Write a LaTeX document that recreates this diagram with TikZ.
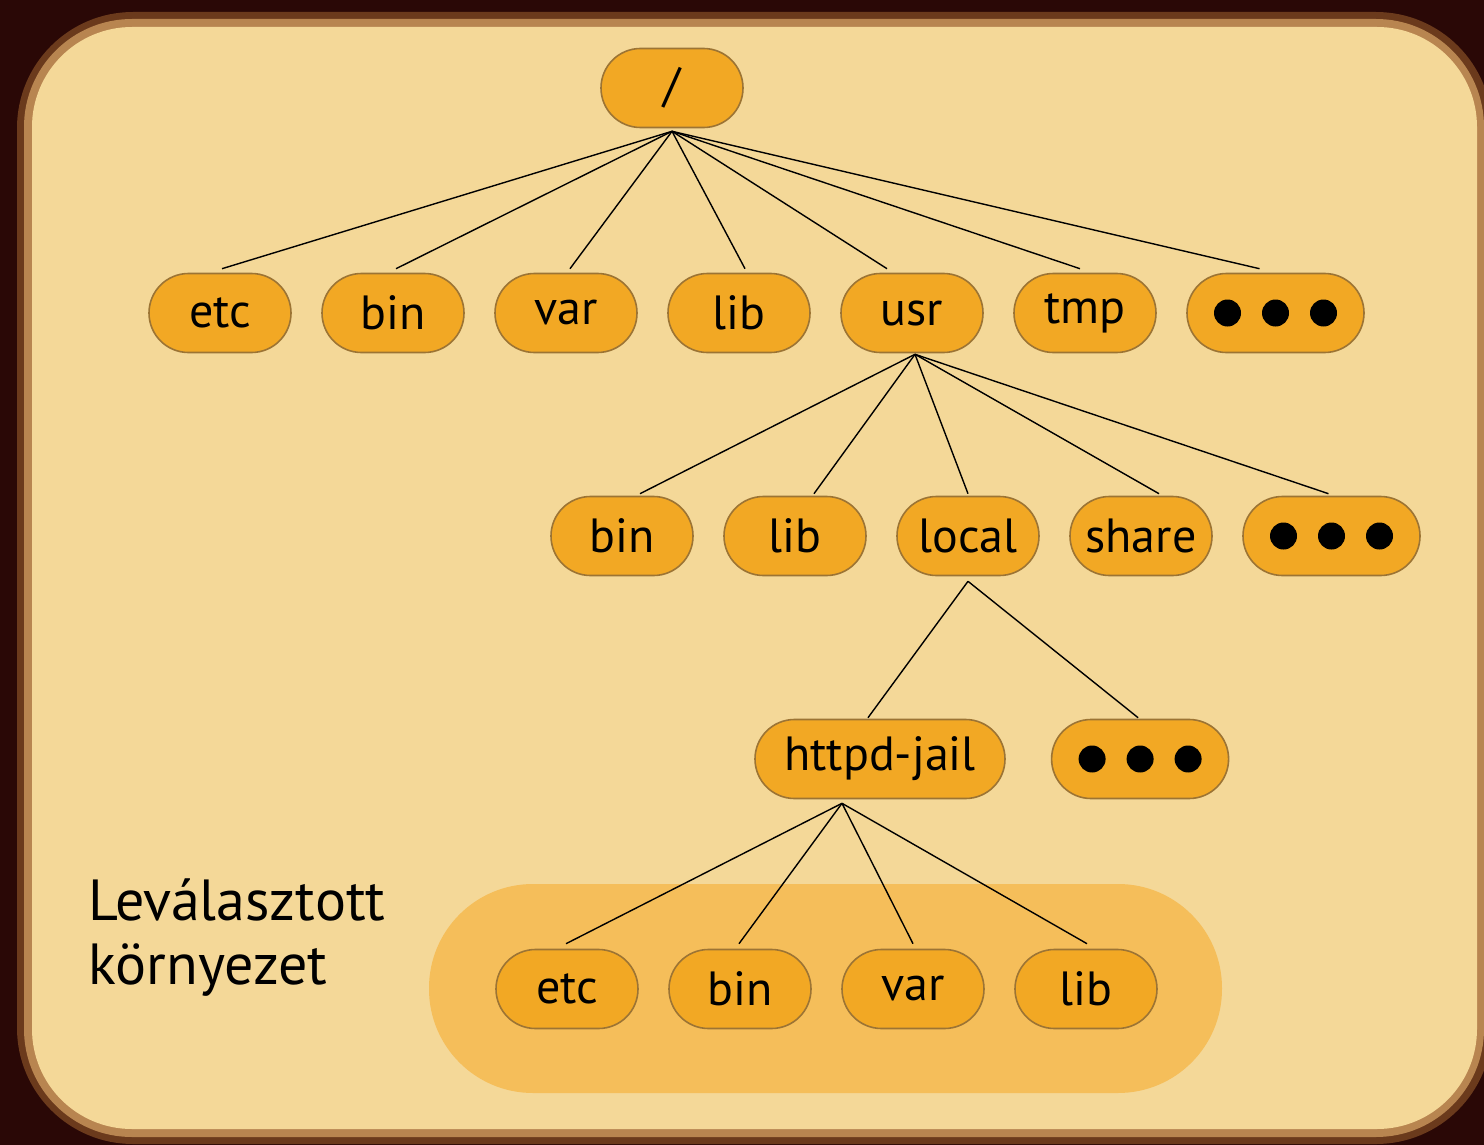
\documentclass[tikz,border=0pt]{standalone}
\usepackage{fontspec}
\setmainfont{PT Sans}
\usetikzlibrary{positioning,shapes.misc}
\definecolor{woodbg}{HTML}{2A0806}
\definecolor{rimdark}{HTML}{6B3A1C}
\definecolor{rimlight}{HTML}{B88550}
\definecolor{paper}{HTML}{F4D898}
\definecolor{dirfill}{HTML}{F2A824}
\definecolor{dirline}{HTML}{9C7434}
\definecolor{jailfill}{HTML}{F5BE5A}

\begin{document}
\begin{tikzpicture}[x=0.5pt,y=-0.5pt,
dirnode/.style={rounded rectangle, draw=dirline, line width=0.8pt, fill=dirfill, minimum width=71pt, minimum height=39.5pt, inner sep=0pt, font=\fontsize{24}{24}\selectfont},
morenode/.style={dirnode, minimum width=88.5pt},
edge/.style={draw=black, line width=0.7pt},
node distance=14.7pt,
]
%Background
\useasboundingbox (0,0) rectangle (1484,1145);
\fill[woodbg] (0,0) rectangle (1484,1145);
\fill[rimdark, rounded corners=58pt] (17,12) rectangle (1492,1144);
\fill[rimlight, rounded corners=54pt] (24,19) rectangle (1484,1137);
\fill[paper, rounded corners=50pt] (32,27) rectangle (1477,1129);
\fill[jailfill, rounded corners=52pt] (429,884) rectangle (1222,1093);

%Nodes
\node[dirnode] (root) at (672,88) {/};
\node[dirnode] (etc) at (220,313) {etc};
\node[dirnode, right=of etc] (bin) {bin};
\node[dirnode, right=of bin] (var) {var};
\node[dirnode, right=of var] (lib) {lib};
\node[dirnode, right=of lib] (usr) {usr};
\node[dirnode, right=of usr] (tmp) {tmp};
\node[morenode, right=of tmp] (more) {};

\node[dirnode] (ubin) at (622,536) {bin};
\node[dirnode, right=of ubin] (ulib) {lib};
\node[dirnode, right=of ulib] (local) {local};
\node[dirnode, right=of local] (share) {share};
\node[morenode, right=of share] (umore) {};

\node[dirnode, minimum width=125pt] (jail) at (880,759) {httpd-jail};
\node[morenode, right=22.5pt of jail] (lmore) {};

\node[dirnode] (jetc) at (567,989) {etc};
\node[dirnode, right=of jetc] (jbin) {bin};
\node[dirnode, right=of jbin] (jvar) {var};
\node[dirnode, right=of jvar] (jlib) {lib};

\node[anchor=north west, align=left, inner sep=0pt, font=\fontsize{29}{32}\selectfont] (label) at (88,878) {Leválasztott\\környezet};

%Dots
\foreach \n in {more,umore,lmore}
  \foreach \dx in {-24,0,24}
    \fill ([xshift=\dx pt]\n.center) circle (6.75pt);

%Lines
\foreach \c/\dx in {etc/1,bin/1.5,var/2,lib/3,usr/-12.5,tmp/-2.5,more/-8}
  \draw[edge] ([yshift=-1.5pt]root.south) -- ([xshift=\dx pt, yshift=2pt]\c.north);
\foreach \c/\dx in {ubin/9,ulib/9.5,local/0,share/9,umore/-1.5}
  \draw[edge] ([xshift=1.5pt, yshift=-0.5pt]usr.south) -- ([xshift=\dx pt, yshift=1pt]\c.north);
\foreach \c/\dx in {jail/-6,lmore/-1}
  \draw[edge] ([yshift=-2.5pt]local.south) -- ([xshift=\dx pt, yshift=0.5pt]\c.north);
\foreach \c/\dx in {jetc/-0.5,jbin/-0.5,jvar/0,jlib/0.5}
  \draw[edge] ([xshift=-19pt, yshift=-2pt]jail.south) -- ([xshift=\dx pt, yshift=2.5pt]\c.north);
\end{tikzpicture}
\end{document}
